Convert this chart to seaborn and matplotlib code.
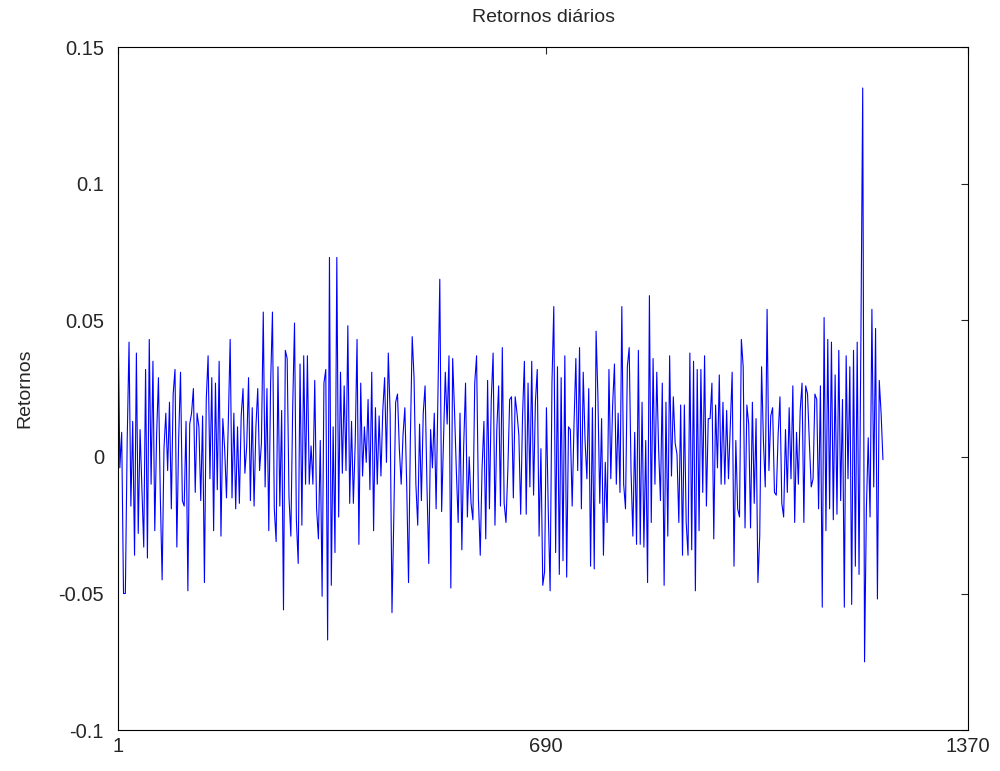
import numpy as np
import matplotlib
matplotlib.use("Agg")
import matplotlib.pyplot as plt
import seaborn as sns

# Retornos diários (aprox. um valor a cada ~3 dias)
ret_a = [0.054, -0.004, 0.009, -0.050, -0.050, 0.006, 0.042, -0.018, 0.013, -0.036, 0.038, -0.028,
         0.010, -0.012, -0.033, 0.032, -0.037, 0.043, -0.010, 0.035, -0.027, 0.008, 0.029, -0.014,
         -0.045, 0.003, 0.016, -0.005, 0.020, -0.019, 0.023, 0.032, -0.033, 0.007, 0.031, -0.016]
ret_b = [-0.018, 0.013, -0.049, 0.012, 0.016, 0.025, -0.013, 0.016, 0.011, -0.016, 0.015, -0.046,
         0.021, 0.037, -0.008, 0.029, -0.027, 0.027, -0.012, 0.035, -0.029, 0.014, 0.003, -0.015,
         0.013, 0.043, -0.015, 0.016, -0.019, 0.011, -0.017, 0.015, 0.025, -0.006, 0.004]
ret_c = [0.029, -0.016, 0.018, -0.018, 0.011, 0.025, -0.005, 0.005, 0.053, -0.011, 0.025, -0.027,
         0.027, 0.053, -0.019, -0.031, 0.033, -0.018, 0.017, -0.056, 0.039, 0.036, -0.015, -0.029,
         0.018, 0.049, -0.023, -0.039, 0.034, -0.025, 0.037, -0.010, 0.037, -0.010, 0.004]
ret_d = [-0.010, 0.028, -0.019, -0.030, 0.006, -0.051, 0.027, 0.032, -0.067, 0.073, -0.047, 0.011,
         -0.035, 0.073, -0.022, 0.031, -0.006, 0.026, -0.005, 0.048, -0.017, 0.013, -0.017, 0.005,
         0.043, -0.032, 0.027, -0.007, 0.011, -0.002, 0.021, -0.012, 0.031, -0.027, 0.018]
ret_e = [-0.010, 0.015, -0.007, 0.017, 0.029, -0.002, 0.038, 0.016, -0.057, -0.022, 0.020, 0.023,
         0.003, -0.010, 0.008, 0.018, -0.010, -0.046, 0.007, 0.044, 0.029, -0.010, -0.025, 0.012,
         -0.016, 0.016, 0.026, -0.010, -0.039, 0.010, -0.004, 0.016, -0.019, 0.024, 0.065]
ret_f = [-0.020, 0.005, 0.031, 0.012, 0.037, -0.048, 0.036, 0.017, -0.005, -0.024, 0.016, -0.034,
         0.004, 0.027, -0.022, 0.000, -0.017, -0.023, 0.027, 0.037, -0.015, -0.036, -0.004, 0.013,
         -0.030, 0.028, -0.019, 0.021, 0.038, -0.025, 0.010, 0.026, -0.018, 0.040, -0.017]
ret_g = [-0.024, -0.005, 0.021, 0.022, -0.015, 0.022, 0.016, 0.008, -0.021, 0.015, 0.035, -0.021,
         0.027, -0.011, 0.035, -0.014, 0.020, 0.032, -0.029, 0.003, -0.047, -0.042, 0.018, -0.020,
         -0.049, 0.027, 0.055, -0.035, 0.033, -0.043, 0.029, -0.038, 0.037, -0.044, 0.011]
ret_h = [0.010, -0.018, 0.012, 0.036, -0.005, 0.040, -0.019, 0.031, 0.006, -0.008, 0.025, -0.040,
         0.018, -0.041, 0.046, 0.022, -0.017, 0.014, -0.036, -0.002, -0.024, 0.032, -0.008, 0.019,
         0.034, -0.010, 0.016, -0.013, 0.055, -0.010, -0.019, 0.033, 0.040, -0.005, -0.029]
ret_i = [0.009, -0.032, 0.039, -0.032, 0.020, -0.033, 0.006, -0.046, 0.059, -0.024, 0.036, -0.010,
         0.031, 0.003, -0.016, 0.027, -0.047, 0.020, -0.029, 0.037, -0.007, 0.022, 0.005, 0.001,
         -0.024, 0.019, -0.036, 0.019, -0.024, -0.036, 0.038, -0.034, 0.035, -0.049, 0.032]
ret_j = [-0.027, 0.032, -0.013, 0.037, -0.018, 0.014, 0.014, 0.027, -0.030, 0.019, -0.004, 0.030,
         -0.010, 0.020, -0.010, 0.017, -0.008, 0.012, 0.031, -0.040, 0.006, -0.019, -0.022, 0.043,
         0.033, -0.026, 0.019, 0.012, -0.026, 0.020, -0.017, 0.014, -0.046, -0.029, 0.033]
ret_k = [0.006, -0.011, 0.054, -0.005, 0.015, 0.018, -0.013, -0.014, 0.008, 0.022, -0.017, -0.022,
         0.010, -0.013, 0.018, -0.008, 0.026, -0.024, 0.009, -0.010, 0.017, 0.027, -0.024, 0.026,
         0.023, 0.005, -0.011, -0.008, 0.023, 0.021, -0.019, 0.026, -0.055, 0.051, -0.027]
ret_l = [0.043, -0.019, 0.042, -0.023, 0.030, -0.021, 0.039, -0.016, 0.021, -0.055, 0.037, -0.008,
         0.033, -0.054, 0.039, -0.040, 0.042, -0.043, 0.042, 0.135, -0.075, -0.019, 0.007, -0.022,
         0.054, -0.011, 0.047, -0.052, 0.028, 0.016, -0.001]

retornos = (ret_a + ret_b + ret_c + ret_d + ret_e + ret_f + ret_g + ret_h
            + ret_i + ret_j + ret_k + ret_l)
ultimo_dia = 1233
dias = np.linspace(1, ultimo_dia, len(retornos))

xticks = [1, 690, 1370]
yticks = [-0.1, -0.05, 0, 0.05, 0.1, 0.15]
ytick_labels = ["-0.1", "-0.05", "0", "0.05", "0.1", "0.15"]

sns.set_style("white")
plt.rcParams["font.family"] = ["Liberation Sans", "DejaVu Sans"]

fig = plt.figure(figsize=(10, 7.71), dpi=100)
ax = fig.add_axes([0.118, 0.053, 0.850, 0.886])

sns.lineplot(x=dias, y=retornos, color="blue", linewidth=0.8, estimator=None, ax=ax)

ax.set_xlim(1, 1370)
ax.set_ylim(-0.1, 0.15)
ax.set_xticks(xticks)
ax.set_xticklabels([str(t) for t in xticks], fontsize=14.5)
ax.set_yticks(yticks)
ax.set_yticklabels(ytick_labels, fontsize=14.5)
ax.tick_params(axis="y", pad=10)
ax.tick_params(axis="x", pad=5)
ax.tick_params(direction="in", length=5, width=0.8, top=True, right=True)
for s in ax.spines.values():
    s.set_visible(True)
    s.set_color("black")
    s.set_linewidth(0.8)

ax.set_title("Retornos diários", fontsize=14, pad=18)
ax.set_ylabel("Retornos", fontsize=14, labelpad=18)

fig.savefig("out.png", dpi=100)
